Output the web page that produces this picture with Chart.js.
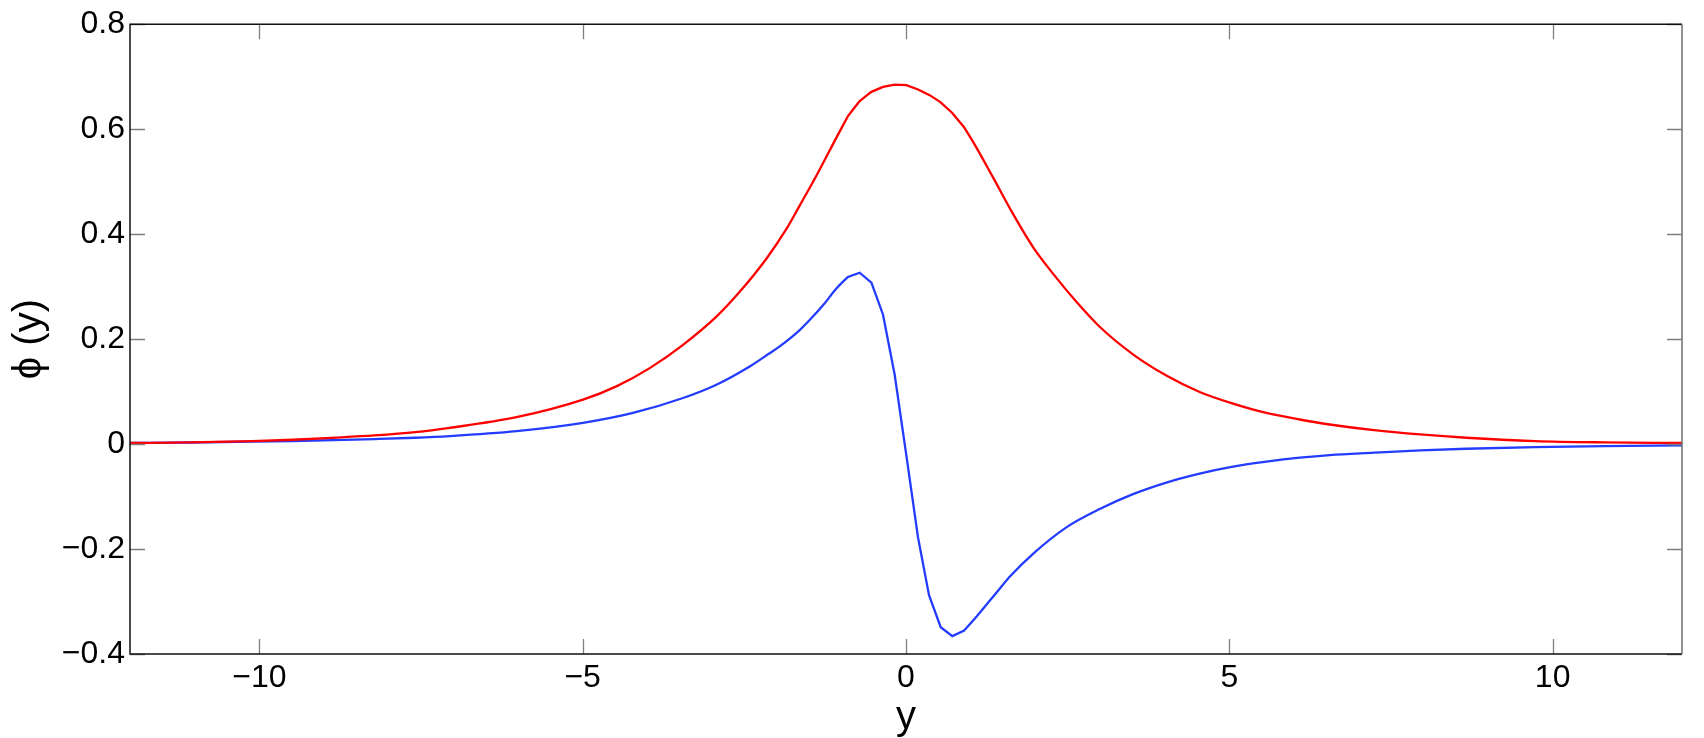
<!DOCTYPE html>
<html>
<head>
<meta charset="utf-8">
<script src="https://cdn.jsdelivr.net/npm/chart.js@4.4.1/dist/chart.umd.min.js"></script>
<style>
  html, body { margin: 0; padding: 0; background: #ffffff; }
  #wrap { width: 1704px; height: 738px; }
</style>
</head>
<body>
<div id="wrap"><canvas id="c" width="1704" height="738"></canvas></div>
<script>
// ---- data ----
const xRed = [-12, -11.06, -10.11, -9.48, -8.849, -8.218, -7.587, -7.056, -6.024, -4.995, -4.479, -3.963, -3.448, -2.932, -2.572, -2.159, -1.849, -1.644, -1.386, -1.076, -0.897, -0.716, -0.535, -0.356, -0.175, 0.006, 0.186, 0.366, 0.532, 0.712, 0.892, 1.089, 1.346, 1.655, 1.964, 2.273, 2.635, 2.995, 3.51, 4.026, 4.541, 5.057, 5.573, 6.088, 6.552, 7.238, 7.951, 8.663, 9.731, 10.8, 12];
const phiRed = [0.002, 0.0032, 0.0057, 0.0082, 0.012, 0.0164, 0.0227, 0.0309, 0.0512, 0.0847, 0.11, 0.1447, 0.189, 0.2427, 0.29, 0.3532, 0.41, 0.4544, 0.5113, 0.5839, 0.625, 0.6535, 0.6711, 0.6806, 0.685, 0.6838, 0.6755, 0.6648, 0.6515, 0.6313, 0.6047, 0.5649, 0.5081, 0.4385, 0.3754, 0.3248, 0.2711, 0.2235, 0.171, 0.1305, 0.0992, 0.0771, 0.0593, 0.0468, 0.0373, 0.0265, 0.0183, 0.012, 0.0057, 0.0032, 0.002];

const xBlue = [-12, -11.06, -10.11, -9.48, -8.85, -8.22, -7.59, -7.056, -6.024, -4.995, -4.222, -3.448, -2.932, -2.417, -2.108, -1.953, -1.67, -1.49, -1.26, -1.077, -0.897, -0.716, -0.535, -0.356, -0.175, 0.006, 0.186, 0.356, 0.537, 0.717, 0.892, 1.089, 1.449, 1.614, 1.964, 2.48, 2.995, 3.51, 4.026, 4.541, 5.057, 5.573, 6.088, 6.552, 7.238, 7.951, 8.663, 9.731, 10.8, 12];
const phiBlue = [0.002, 0.003, 0.0045, 0.0058, 0.0075, 0.0095, 0.012, 0.0152, 0.0246, 0.0404, 0.0593, 0.0878, 0.1131, 0.1479, 0.1731, 0.186, 0.2142, 0.2364, 0.2679, 0.2963, 0.3185, 0.3265, 0.3077, 0.247, 0.132, -0.022, -0.178, -0.288, -0.349, -0.366, -0.356, -0.329, -0.2755, -0.2515, -0.2091, -0.1587, -0.1238, -0.0954, -0.0733, -0.0563, -0.043, -0.0336, -0.026, -0.0209, -0.0164, -0.012, -0.0089, -0.0057, -0.0038, -0.0025];

const xTicks = [-10, -5, 0, 5, 10];
const yTicks = [-0.4, -0.2, 0, 0.2, 0.4, 0.6, 0.8];
const xTitle = 'y';
const yTitle = '\u03D5 (y)';

// ---- helpers ----
const FONT = '"Liberation Sans", Arial, Helvetica, sans-serif';
const SHARP_HALF_WIDTH = 1.0; // sampled points near the centre are joined by straight segments
function fmt(v) {
  const r = Math.round(v * 10) / 10;
  if (r === 0) return '0';
  const s = String(Math.abs(r));
  return (r < 0 ? '\u2212' : '') + s;
}
const toPts = (xs, ys) => xs.map((x, i) => ({ x: x, y: ys[i] }));

// keep smooth tails but straight polyline segments where the samples are dense
const sharpCentre = {
  id: 'sharpCentre',
  beforeDatasetDraw(chart, args) {
    const meta = args.meta;
    const line = meta.dataset;
    if (!line) return;
    line.updateControlPoints(chart.chartArea, meta.indexAxis || 'x');
    const raw = chart.data.datasets[args.index].data;
    meta.data.forEach((p, i) => {
      if (Math.abs(raw[i].x) < SHARP_HALF_WIDTH) {
        p.cp1x = p.x; p.cp1y = p.y; p.cp2x = p.x; p.cp2y = p.y;
      }
    });
  }
};

const frame = {
  id: 'frame',
  afterDatasetsDraw(chart) {
    const { ctx, chartArea: { left, right, top, bottom }, scales: { x, y } } = chart;
    const L = 15;
    ctx.save();
    ctx.strokeStyle = '#7f7f7f';
    ctx.lineWidth = 1.3;
    ctx.beginPath();
    x.ticks.forEach(t => {
      const px = Math.round(x.getPixelForValue(t.value)) + 0.5;
      ctx.moveTo(px, bottom); ctx.lineTo(px, bottom - L);
      ctx.moveTo(px, top); ctx.lineTo(px, top + L);
    });
    y.ticks.forEach(t => {
      const py = Math.round(y.getPixelForValue(t.value)) + 0.5;
      ctx.moveTo(left, py); ctx.lineTo(left + L, py);
      ctx.moveTo(right, py); ctx.lineTo(right - L, py);
    });
    ctx.stroke();
    ctx.lineWidth = 1.5;
    ctx.strokeStyle = '#111111';
    ctx.beginPath();
    ctx.moveTo(right, top); ctx.lineTo(left, top); ctx.lineTo(left, bottom); ctx.lineTo(right, bottom);
    ctx.stroke();
    ctx.strokeStyle = '#6f6f6f';
    ctx.beginPath();
    ctx.moveTo(right, top); ctx.lineTo(right, bottom);
    ctx.stroke();
    ctx.restore();
  }
};

new Chart(document.getElementById('c'), {
  type: 'line',
  data: {
    datasets: [
      { data: toPts(xRed, phiRed), borderColor: '#ff0000', borderWidth: 2.3, pointRadius: 0, cubicInterpolationMode: 'monotone', fill: false },
      { data: toPts(xBlue, phiBlue), borderColor: 'rgb(35,60,255)', borderWidth: 2.3, pointRadius: 0, cubicInterpolationMode: 'monotone', fill: false }
    ]
  },
  options: {
    responsive: false,
    animation: false,
    devicePixelRatio: 1,
    layout: { padding: { top: 21, right: 22, left: 0, bottom: 0 } },
    plugins: { legend: { display: false }, tooltip: { enabled: false } },
    scales: {
      x: {
        type: 'linear', min: -12, max: 12,
        afterBuildTicks: s => { s.ticks = xTicks.map(v => ({ value: v })); },
        afterFit: s => { s.height = 84; },
        grid: { display: false, drawTicks: false },
        border: { display: false },
        ticks: { color: '#000', font: { family: FONT, size: 32 }, padding: 5, maxRotation: 0, callback: v => fmt(v) },
        title: { display: true, text: xTitle, color: '#000', font: { family: FONT, size: 40 }, padding: { top: 0, bottom: -4 } }
      },
      y: {
        type: 'linear', min: -0.4, max: 0.8,
        afterBuildTicks: s => { s.ticks = yTicks.map(v => ({ value: v })); },
        afterFit: s => { s.width = 130; },
        grid: { display: false, drawTicks: false },
        border: { display: false },
        ticks: { color: '#000', font: { family: FONT, size: 32 }, padding: 5, callback: v => fmt(v) },
        title: { display: true, text: yTitle, color: '#000', font: { family: FONT, size: 40 }, padding: { top: 6, bottom: 0 } }
      }
    }
  },
  plugins: [sharpCentre, frame]
});
</script>
</body>
</html>
